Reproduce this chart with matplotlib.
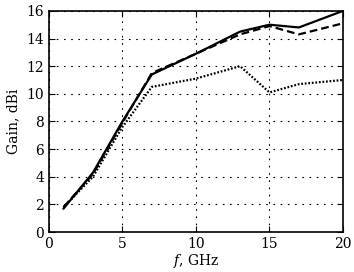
import matplotlib
matplotlib.use('Agg')
import matplotlib.pyplot as plt

freq = [1, 3, 5, 7, 10, 13, 15, 17, 20]
gain_solid = [1.7, 4.3, 8.0, 11.4, 12.9, 14.5, 15.0, 14.8, 16.0]
gain_dashed = [1.8, 4.2, 7.9, 11.5, 12.9, 14.3, 14.9, 14.3, 15.1]
gain_dotted = [1.8, 4.0, 7.6, 10.5, 11.1, 12.0, 10.1, 10.7, 11.0]

plt.rcParams['font.family'] = 'DejaVu Serif'
plt.rcParams['mathtext.fontset'] = 'dejavuserif'

fig = plt.figure(figsize=(3.54, 2.72), dpi=100)
ax = fig.add_axes([0.138, 0.147, 0.831, 0.813])

ax.plot(freq, gain_solid, color='black', linestyle='-', linewidth=1.6)
ax.plot(freq, gain_dashed, color='black', linestyle=(0, (3.5, 1.8)), linewidth=1.6)
ax.plot(freq, gain_dotted, color='black', linestyle=(0, (0.8, 0.8)), linewidth=1.6)

ax.set_xlim(0, 20)
ax.set_ylim(0, 16)
ax.set_xticks([0, 5, 10, 15, 20])
ax.set_yticks(range(0, 17, 2))
ax.grid(True, color='black', linestyle=(0, (1.5, 5)), linewidth=0.8)
ax.tick_params(direction='in', top=True, right=True, labelsize=10, length=4)
for s in ax.spines.values():
    s.set_linewidth(1.2)

ax.set_xlabel('$f$, GHz', fontsize=10, labelpad=1)
ax.set_ylabel('Gain, dBi', fontsize=10, labelpad=4)

fig.savefig('out.png', dpi=100)
